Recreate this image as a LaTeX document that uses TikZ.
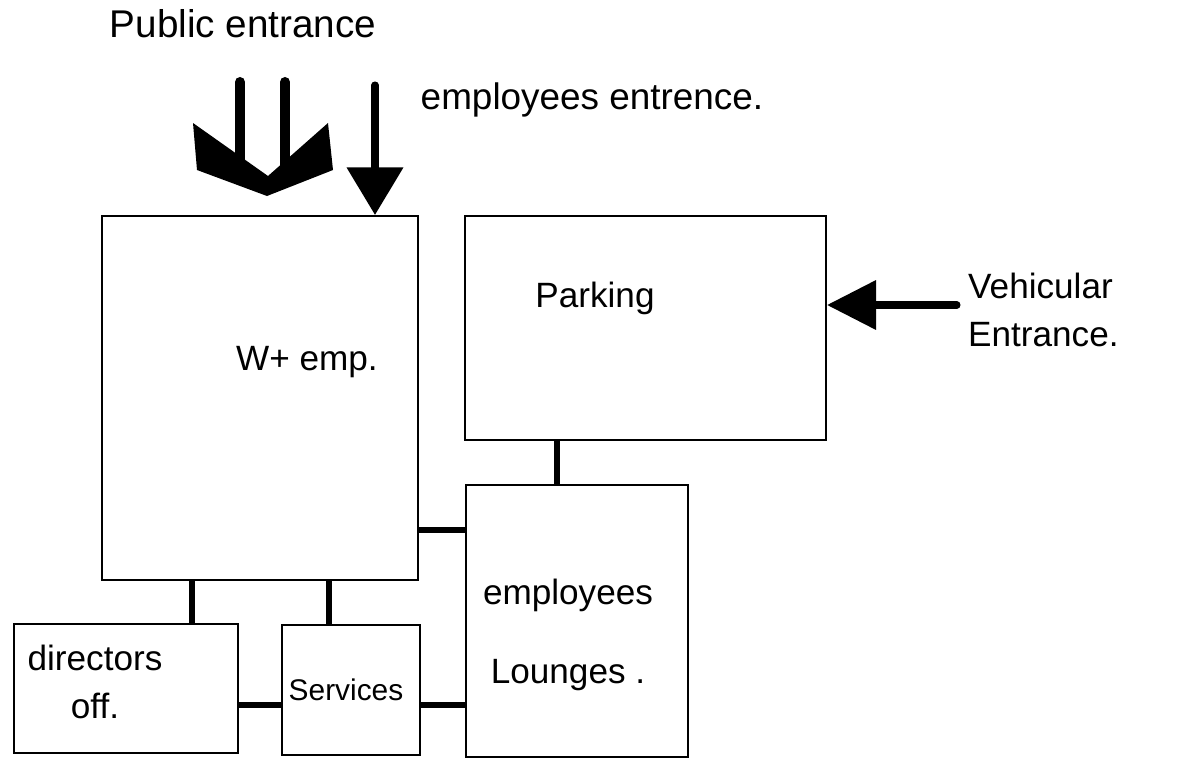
\documentclass[tikz,border=0pt]{standalone}
\usepackage{fontspec}
\setmainfont{Liberation Sans}
\usetikzlibrary{arrows.meta, positioning, calc}

\begin{document}
\begin{tikzpicture}[
    x=0.02cm, y=-0.02cm,
    room/.style={rectangle, draw, line width=1.2pt, inner sep=0pt},
    link/.style={line width=3.4pt},
    entry/.style={line width=4pt, -{Triangle[width=1.1cm, length=0.95cm]}},
    hand/.style={font=\fontsize{20}{24}\selectfont, align=center}
]
\useasboundingbox (0,0) rectangle (1177,764);

% Rooms
\node[room, minimum width=6.32cm, minimum height=7.28cm] (wemp) at (260,398) {};
\node[room, minimum width=7.22cm, minimum height=4.48cm] (park) at (645.5,328) {};
\node[room, minimum width=4.44cm, minimum height=5.44cm] (lounge) at (577,621) {};
\node[room, minimum width=4.48cm, minimum height=2.58cm] (dirs) at (126,688.5) {};
\node[room, minimum width=2.76cm, minimum height=2.60cm] (serv) at (351,690) {};

% Room names
\node[hand] (wempname) at (307,362) {W+ emp.};
\node[hand] (parkname) at (595,298) {Parking};
\node[hand] (loungename) at (568,635) {employees\\[0.75cm]Lounges .};
\node[hand] (dirsname) at (95,682) {directors\\[0.1cm]off.};
\node[hand, font=\fontsize{17}{20}\selectfont] (servname) at (346,690) {Services};

% Links
\draw[link] ([xshift=1.82cm]wemp.south west) coordinate (wd) -- (wd |- dirs.north);
\draw[link] ([xshift=4.56cm]wemp.south west) coordinate (ws) -- (ws |- serv.north);
\draw[link] ([yshift=-2.64cm]wemp.east) coordinate (wl) -- (wl -| lounge.west);
\draw[link] ([xshift=-0.4cm]lounge.north) coordinate (pl) -- (pl |- park.south);
\draw[link] ([yshift=-0.33cm]dirs.east) coordinate (ds) -- (ds -| serv.west);
\draw[link] ([yshift=-0.3cm]serv.east) coordinate (sl) -- (sl -| lounge.west);

% Entrances
\coordinate (pubtip) at (267,196);
\draw[line width=5.7pt, line cap=round] (240,82) -- (240,165);
\draw[line width=5.7pt, line cap=round] (285,82) -- (285,165);
\fill ($(pubtip)+(-74,-73)$) -- ($(pubtip)+(1,-20)$) -- ($(pubtip)+(61,-73)$)
    -- ($(pubtip)+(66,-26)$) -- (pubtip) -- ($(pubtip)+(-70,-26)$) -- cycle;

\coordinate (empin) at (375,85);
\draw[entry, line cap=round] (empin) -- (empin |- wemp.north);

\coordinate (vehin) at (957,305);
\draw[line width=4pt, line cap=round, -{Triangle[width=0.96cm, length=0.98cm]}] (vehin) -- (vehin -| park.east);

% Annotations
\node[hand, font=\fontsize{22}{26}\selectfont] (pubname) at (243,24) {Public entrance};
\node[hand, font=\fontsize{21}{25}\selectfont] (empname) at (592,100) {employees entrence.};
\node[hand, align=left, anchor=west] (vehname) at (962,310) {Vehicular\\[0.1cm]Entrance.};

\end{tikzpicture}
\end{document}
